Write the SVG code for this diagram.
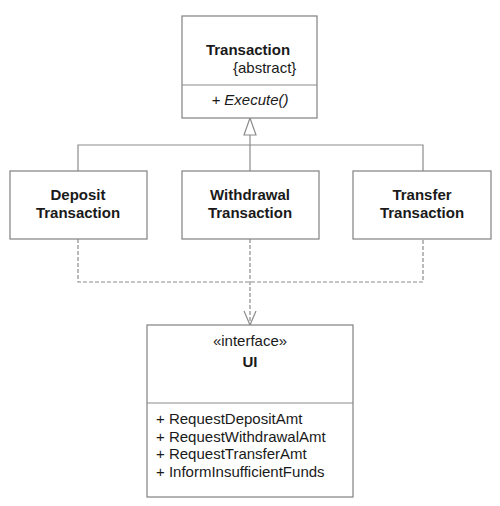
<svg xmlns="http://www.w3.org/2000/svg" width="500" height="506" viewBox="0 0 500 506">
<style>
.box{fill:#fff;stroke:#808080;stroke-width:1.2}
.ln{fill:none;stroke:#8c8c8c;stroke-width:1.2}
.dash{fill:none;stroke:#8c8c8c;stroke-width:1.2;stroke-dasharray:4 2}
text{font-family:"Liberation Sans",Arial,sans-serif;font-size:15px;fill:#1a1a1a}
.b{font-weight:bold}
.c{text-anchor:middle}
.i{font-style:italic}
</style>
<rect width="500" height="506" fill="#fff"/>
<g id="connectors">
<path class="ln" d="M78 171 V145 H423 V171"/>
<path class="ln" d="M250 171 V135"/>
<polygon points="250,118 244,135 256,135" fill="#fff" stroke="#8c8c8c" stroke-width="1.2"/>
<path class="dash" d="M78 239 V282 H423 V239"/>
<path class="dash" d="M250 239 V324"/>
<path class="ln" d="M244 311 L250 325 L256 311"/>
</g>
<g id="Transaction">
<rect class="box" x="182" y="16" width="135" height="102"/>
<line class="ln" x1="182" y1="85" x2="317" y2="85"/>
<text class="b c" x="248" y="55">Transaction</text>
<text x="233" y="73">{abstract}</text>
<text class="i c" x="250" y="105">+ Execute()</text>
</g>
<g id="DepositTransaction">
<rect class="box" x="10" y="171" width="137" height="68"/>
<text class="b c" x="78" y="200">Deposit</text>
<text class="b c" x="78" y="218">Transaction</text>
</g>
<g id="WithdrawalTransaction">
<rect class="box" x="182" y="171" width="137" height="68"/>
<text class="b c" x="250" y="200">Withdrawal</text>
<text class="b c" x="250" y="218">Transaction</text>
</g>
<g id="TransferTransaction">
<rect class="box" x="353" y="171" width="138" height="68"/>
<text class="b c" x="422" y="200">Transfer</text>
<text class="b c" x="422" y="218">Transaction</text>
</g>
<g id="UI">
<rect class="box" x="147" y="325" width="206" height="172"/>
<line class="ln" x1="147" y1="403" x2="353" y2="403"/>
<text class="c" x="250" y="346">«interface»</text>
<text class="b c" x="250" y="367">UI</text>
<text x="156" y="424">+ RequestDepositAmt</text>
<text x="156" y="442">+ RequestWithdrawalAmt</text>
<text x="156" y="459">+ RequestTransferAmt</text>
<text x="156" y="477">+ InformInsufficientFunds</text>
</g>
</svg>
